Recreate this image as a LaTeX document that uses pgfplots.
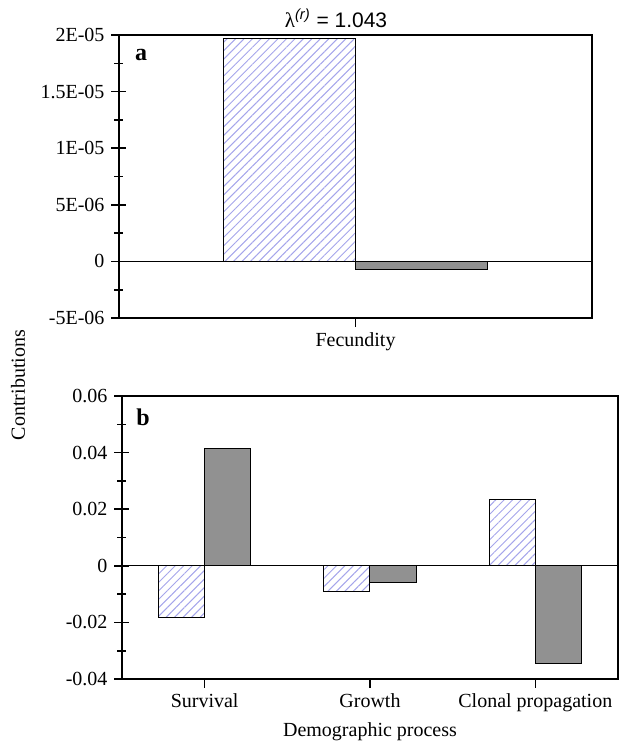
\documentclass[border=0pt]{standalone}
\usepackage{pgfplots}
\pgfplotsset{compat=1.18}
\usetikzlibrary{patterns.meta}
\usepackage{fontspec}
\setmainfont{Liberation Serif}
\newfontfamily\helv{Liberation Sans}
\definecolor{hatch}{RGB}{165,165,235}
\definecolor{bargray}{RGB}{145,145,145}
\begin{document}
\begin{tikzpicture}
\useasboundingbox (0,0) rectangle (312pt,-370.5pt);
\pgfplotsset{
  every axis/.append style={
    scale only axis,
    axis line style={line width=0.9pt},
    tick style={black, line width=0.8pt},
    tick align=center,
    ytick pos=left, xtick pos=bottom,
    major tick length=7.5pt, minor tick length=4.5pt,
    xtick style={/pgfplots/major tick length=4.5pt},
    xticklabel style={yshift=3.5pt},
    ybar=0pt, bar width=0.28,
    font=\fontsize{10}{12}\selectfont,
    scaled y ticks=false,
    extra y ticks={0}, extra y tick labels={},
    extra y tick style={grid=major, major grid style={black, line width=0.5pt}},
  },
  hatchbar/.style={draw=black, line width=0.5pt, pattern={Lines[angle=45,distance=3pt,line width=0.5pt]}, pattern color=hatch},
  graybar/.style={draw=black, line width=0.5pt, fill=bargray},
}
\begin{axis}[at={(59.5pt,-17.5pt)}, anchor=north west, width=236.5pt, height=141.5pt,
  xmin=-0.5, xmax=0.5, ymin=-5e-6, ymax=2e-5,
  ytick={-5e-6,0,5e-6,1e-5,1.5e-5,2e-5},
  yticklabels={-5E-06,0,5E-06,1E-05,1.5E-05,2E-05},
  minor y tick num=1,
  xtick={0}, xticklabels={Fecundity}]
\addplot[hatchbar] coordinates {(0,1.965e-5)};
\addplot[graybar] coordinates {(0,-7e-7)};
\end{axis}
\begin{axis}[at={(61pt,-198pt)}, anchor=north west, width=248pt, height=141.5pt,
  xmin=-0.5, xmax=2.5, ymin=-0.04, ymax=0.06,
  ytick={-0.04,-0.02,0,0.02,0.04,0.06},
  yticklabels={-0.04,-0.02,0,0.02,0.04,0.06},
  minor y tick num=1,
  xtick={0,1,2}, xticklabels={Survival,Growth,Clonal propagation}]
\addplot[hatchbar] coordinates {(0,-0.0184) (1,-0.0092) (2,0.0235)};
\addplot[graybar] coordinates {(0,0.0415) (1,-0.006) (2,-0.0345)};
\end{axis}
\node[font=\helv\fontsize{10.5}{12}\selectfont] at (168pt,-9pt) {{\rmfamily λ}\textsuperscript{\textit{(r)}} = 1.043};
\node[font=\bfseries\fontsize{12}{14}\selectfont] at (70.5pt,-27.5pt) {a};
\node[font=\bfseries\fontsize{12}{14}\selectfont] at (71.5pt,-208.5pt) {b};
\node[rotate=90, font=\fontsize{10}{12}\selectfont] at (9pt,-192.5pt) {Contributions};
\node[font=\fontsize{10}{12}\selectfont, anchor=base, inner sep=0pt] at (185pt,-368pt) {Demographic process};
\end{tikzpicture}
\end{document}
